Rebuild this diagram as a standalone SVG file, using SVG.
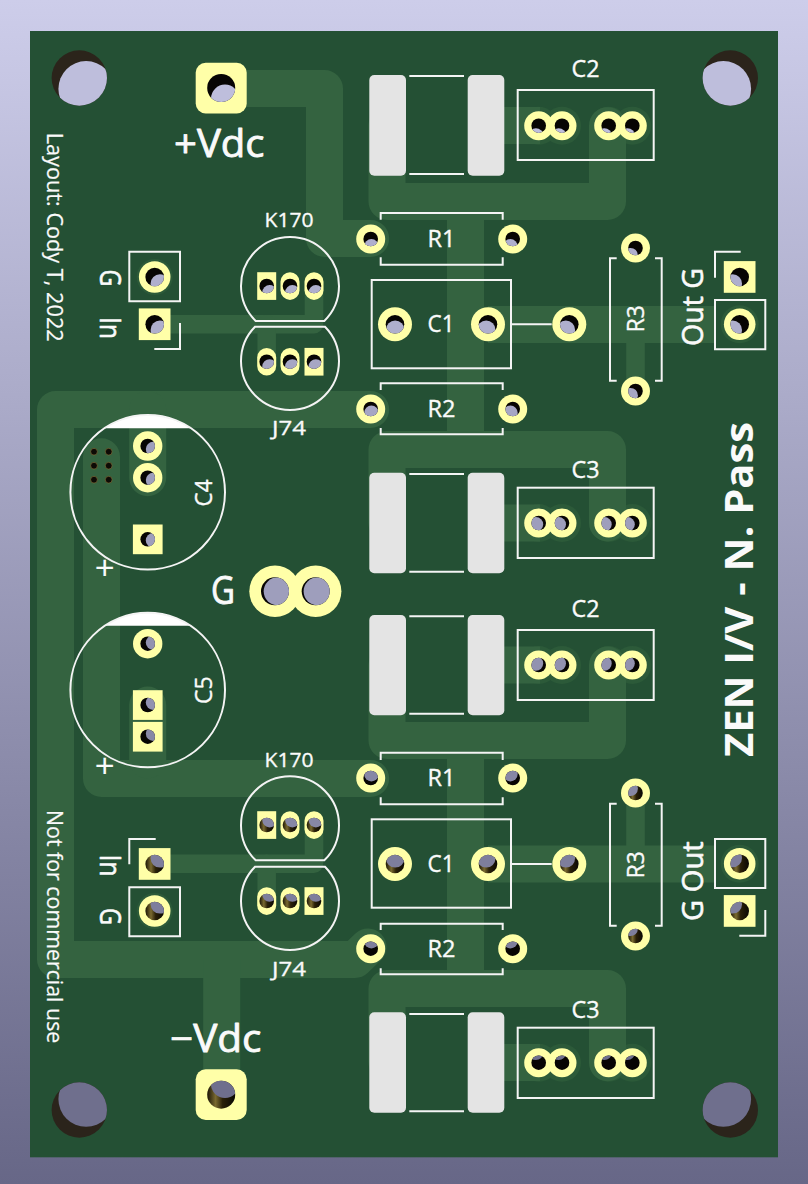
<svg xmlns="http://www.w3.org/2000/svg" width="808" height="1184" viewBox="0 0 808 1184">
<style>
.t{fill:none;stroke:#346340;stroke-width:37;stroke-linejoin:round;stroke-linecap:round}
.n{fill:none;stroke:#346340;stroke-width:18.5;stroke-linejoin:round;stroke-linecap:round}
.bt{fill:none;stroke:#346340;stroke-width:37}
.halo{fill:#2c5a39}
.s{fill:none;stroke:#f4f4f4;stroke-width:2}
.p{fill:#ffffa8}
.chip{fill:#e4e4e4}
.cap{fill:#fff}
text{fill:#fafafa;stroke:#fafafa;stroke-linejoin:round;stroke-width:.35;font-family:"Open Sans","DejaVu Sans",sans-serif}
.f22{font-size:23px}
.f20{font-size:20.5px}
.f19{font-size:21px;stroke-width:.2}
.f28{font-size:29px;stroke-width:.6}
.f37{font-size:38px;stroke-width:.8}
.d{fill:#070503}
.g{fill:url(#gold)}
.m{fill:#2b241b}
.b1{fill:#bebedc}.b2{fill:#afafcd}.b3{fill:#a6a6c4}.b4{fill:#9e9ebc}.b5{fill:#9292b0}.b6{fill:#8787a5}.b7{fill:#7e7e9c}.b8{fill:#6f6f8d}
</style>
<defs>
<linearGradient id="bg" x1="0" y1="0" x2="0" y2="1"><stop offset="0" stop-color="#cdcdea"/><stop offset="1" stop-color="#676787"/></linearGradient>
<linearGradient id="gold" x1="0" y1="0" x2="1" y2="0"><stop offset="0" stop-color="#1a1406"/><stop offset=".3" stop-color="#7a6a30"/><stop offset=".55" stop-color="#2a2008"/><stop offset="1" stop-color="#0a0804"/></linearGradient>
<clipPath id="c7"><circle r="7.3"/></clipPath>
<clipPath id="c9"><circle r="9.3"/></clipPath>
<clipPath id="c14"><circle r="14"/></clipPath>
<clipPath id="c28"><circle r="27.7"/></clipPath>
</defs>
<rect width="808" height="1184" fill="url(#bg)"/>
<rect x="30" y="31" width="748" height="1126.3" fill="#245034"/>

<g id="halos">
<circle class="halo" cx="538.7" cy="125.7" r="19"/><circle class="halo" cx="562" cy="125.7" r="19"/><circle class="halo" cx="608.7" cy="125.7" r="19"/><circle class="halo" cx="632.3" cy="125.7" r="19"/>
<circle class="halo" cx="538.7" cy="523" r="19"/><circle class="halo" cx="562" cy="523" r="19"/><circle class="halo" cx="608.7" cy="523" r="19"/><circle class="halo" cx="632.3" cy="523" r="19"/>
<circle class="halo" cx="538.7" cy="665" r="19"/><circle class="halo" cx="562" cy="665" r="19"/><circle class="halo" cx="608.7" cy="665" r="19"/><circle class="halo" cx="632.3" cy="665" r="19"/>
<circle class="halo" cx="538.7" cy="1062.7" r="19"/><circle class="halo" cx="562" cy="1062.7" r="19"/><circle class="halo" cx="608.7" cy="1062.7" r="19"/><circle class="halo" cx="632.3" cy="1062.7" r="19"/>
<circle class="halo" cx="739.7" cy="324.3" r="19"/><circle class="halo" cx="739.7" cy="863.7" r="19"/>
<circle class="halo" cx="154.7" cy="277" r="18"/><circle class="halo" cx="154.7" cy="911" r="18"/>
</g>

<g id="connectors">
<path class="t" d="M221.2 88.5H324.5V238.5H370.7"/>
<path class="t" d="M387 125V201.5H607.5V125.7"/>
<path class="t" d="M387 523V449.5H607.5V523"/>
<path class="t" d="M387 665V740.5H607.5V665"/>
<path class="t" d="M387 1062V988.5H607.5V1062.7"/>
<path class="bt" d="M465.5 201V450M465.5 740V989"/>
<path class="bt" d="M486 125.5H540M486 523H540M486 665H540M486 1062.5H540"/>
<path class="t" d="M370.7 409.5H55.5V959.5H355L368 947"/>
<path class="t" d="M101.5 456.8V778.5H370.7"/>
<path class="t" d="M147.7 409.5V477.7"/>
<path class="t" d="M147.7 705V760"/>
<path class="bt" d="M221.7 960V1095"/>
<path class="n" d="M154.7 324.3H314V286"/>
<path class="n" d="M266.7 324.3V361.7"/>
<path class="n" d="M154.7 863.7H314V825"/>
<path class="n" d="M266.7 863.7V901"/>
<path class="bt" d="M488 324.5H715M488 864H715"/>
<path class="n" d="M635.5 324.3V391"/>
<path class="n" d="M635.5 793V864"/>
</g>

<g id="C4"><path class="cap" d="M104.4 428.3A77.3 77.3 0 0 1 191 428.3Z"/><circle class="s" cx="147.7" cy="492.3" r="77.3"/>
<rect class="p" x="132.9" y="524.5" width="29.7" height="29.7"/><circle class="p" cx="147.7" cy="446" r="14.7"/><circle class="p" cx="147.7" cy="477.7" r="14.7"/>
<g transform="translate(147.7 446)"><circle class="d" r="7.3"/><circle class="b4" cx="5.4" cy="3.1" r="7.3" clip-path="url(#c7)"/></g>
<g transform="translate(147.7 477.7)"><circle class="d" r="7.3"/><circle class="b4" cx="5.4" cy="2.4" r="7.3" clip-path="url(#c7)"/></g>
<g transform="translate(147.7 539.3)"><circle class="d" r="7.3"/><circle class="b4" cx="5.4" cy="1.1" r="7.3" clip-path="url(#c7)"/></g>
<text class="f22" transform="translate(211.7 506.5) rotate(-90)" textLength="27" lengthAdjust="spacingAndGlyphs">C4</text>
<text x="104.7" y="579.3" text-anchor="middle" style="font-family:'Liberation Sans',sans-serif;font-size:34px;stroke-width:0">+</text>
</g>
<g id="C5"><path class="cap" d="M104.8 625.7A77.3 77.3 0 0 1 190.6 625.7Z"/><circle class="s" cx="147.7" cy="690" r="77.3"/>
<circle class="p" cx="147.7" cy="643.7" r="14.7"/><rect class="p" x="132.9" y="690.2" width="29.7" height="29.7"/><rect class="p" x="132.9" y="721.9" width="29.7" height="29.7"/>
<g transform="translate(147.7 643.7)"><circle class="d" r="7.3"/><circle class="b5" cx="5.4" cy="-1.1" r="7.3" clip-path="url(#c7)"/></g>
<g transform="translate(147.7 705)"><circle class="d" r="7.3"/><circle class="b5" cx="5.4" cy="-2.4" r="7.3" clip-path="url(#c7)"/></g>
<g transform="translate(147.7 736.7)"><circle class="d" r="7.3"/><circle class="b6" cx="5.4" cy="-3" r="7.3" clip-path="url(#c7)"/></g>
<text class="f22" transform="translate(211.7 704) rotate(-90)" textLength="27.7" lengthAdjust="spacingAndGlyphs">C5</text>
<text x="104.7" y="777.3" text-anchor="middle" style="font-family:'Liberation Sans',sans-serif;font-size:34px;stroke-width:0">+</text>
</g>
<g id="vias" fill="#0d0a05" stroke="#7d6d38" stroke-width=".7">
<circle cx="94" cy="451.7" r="3.4"/><circle cx="108.7" cy="451.7" r="3.4"/><circle cx="94" cy="465.7" r="3.4"/><circle cx="108.7" cy="465.7" r="3.4"/><circle cx="94" cy="479.7" r="3.4"/><circle cx="108.7" cy="479.7" r="3.4"/>
</g>

<g id="mount-holes">
<g transform="translate(79.3 78)"><circle class="m" r="27.7"/><circle class="b1" cx="6.8" cy="10.8" r="27.7" clip-path="url(#c28)"/></g>
<g transform="translate(730.3 78)"><circle class="m" r="27.7"/><circle class="b1" cx="-6.9" cy="10.8" r="27.7" clip-path="url(#c28)"/></g>
<g transform="translate(79.3 1110)"><circle class="m" r="27.7"/><circle class="b8" cx="6.8" cy="-10.9" r="27.7" clip-path="url(#c28)"/></g>
<g transform="translate(730.3 1110)"><circle class="m" r="27.7"/><circle class="b8" cx="-6.9" cy="-10.9" r="27.7" clip-path="url(#c28)"/></g>
</g>

<g id="Vplus"><rect class="p" x="195.7" y="62.7" width="51" height="50.7" rx="10"/>
<g transform="translate(221.2 88)"><circle class="d" r="14"/><circle class="b1" cx="3.8" cy="10.6" r="14" clip-path="url(#c14)"/></g>
<text class="f37" x="174" y="156.7" textLength="90.5" lengthAdjust="spacingAndGlyphs">+Vdc</text></g>
<g id="Vminus"><rect class="p" x="195.7" y="1069.3" width="51" height="50.7" rx="10"/>
<g transform="translate(221.2 1094.7)"><circle class="g" r="14"/><circle class="b8" cx="3.8" cy="-10.6" r="14" clip-path="url(#c14)"/></g>
<text class="f37" x="170" y="1051.7" textLength="91.5" lengthAdjust="spacingAndGlyphs">−Vdc</text></g>

<g id="GND"><circle class="p" cx="275" cy="591.3" r="25.7"/><circle class="p" cx="315.7" cy="591.3" r="25.7"/>
<g transform="translate(275 591.3)"><circle class="d" r="14"/><circle class="b4" cx="2.7" r="14" clip-path="url(#c14)"/></g>
<g transform="translate(315.7 591.3)"><circle class="d" r="14"/><circle class="b4" cx="1.9" r="14" clip-path="url(#c14)"/></g>
<text class="f37" x="211" y="604" textLength="24" lengthAdjust="spacingAndGlyphs">G</text></g>

<g id="notes">
<text class="f19" transform="translate(46.7 132.7) rotate(90)" textLength="209" lengthAdjust="spacingAndGlyphs">Layout: Cody T, 2022</text>
<text class="f19" transform="translate(46.7 810) rotate(90)" textLength="233.3" lengthAdjust="spacingAndGlyphs">Not for commercial use</text>
<text transform="translate(753.3 757) rotate(-90)" textLength="335" lengthAdjust="spacingAndGlyphs" style="font-size:39px;font-weight:700;stroke-width:0">ZEN I/V - N. Pass</text>
</g>

<g id="J1-top"><path class="s" d="M129.3 251.7H180V301.3H129.3Z"/><path class="s" d="M154.3 349H180V323"/>
<circle class="p" cx="154.7" cy="277" r="15.8"/><rect class="p" x="138.8" y="308.4" width="31.7" height="31.7"/>
<g transform="translate(154.7 277)"><circle class="d" r="9.3"/><circle class="b2" cx="5.2" cy="6.6" r="9.3" clip-path="url(#c9)"/></g>
<g transform="translate(154.7 324.3)"><circle class="d" r="9.3"/><circle class="b2" cx="5.2" cy="5.6" r="9.3" clip-path="url(#c9)"/></g>
<text class="f28" transform="translate(100 269.5) rotate(90)" textLength="17" lengthAdjust="spacingAndGlyphs">G</text>
<text class="f28" transform="translate(100 317) rotate(90)" textLength="22" lengthAdjust="spacingAndGlyphs">In</text></g>
<g id="J1-bot"><path class="s" d="M129.3 887.3H180V936.3H129.3Z"/><path class="s" d="M155.7 839H129.3V864.3"/>
<rect class="p" x="138.8" y="848.1" width="31.7" height="31.7"/><circle class="p" cx="154.7" cy="911" r="15.8"/>
<g transform="translate(154.7 864)"><circle class="g" r="9.3"/><circle class="b7" cx="5.2" cy="-5.7" r="9.3" clip-path="url(#c9)"/></g>
<g transform="translate(154.7 911)"><circle class="g" r="9.3"/><circle class="b7" cx="5.2" cy="-6.7" r="9.3" clip-path="url(#c9)"/></g>
<text class="f28" transform="translate(100 854.5) rotate(90)" textLength="22" lengthAdjust="spacingAndGlyphs">In</text>
<text class="f28" transform="translate(100 908) rotate(90)" textLength="17" lengthAdjust="spacingAndGlyphs">G</text></g>

<g id="K170-top"><path class="s" d="M255.7 321A49 49 0 1 1 324.3 321Z"/>
<rect class="p" x="257.2" y="272.2" width="19" height="27.7"/><rect class="p" x="280.5" y="272.2" width="19" height="27.7" rx="9.5"/><rect class="p" x="304.5" y="272.2" width="19" height="27.7" rx="9.5"/>
<g transform="translate(266.7 286)"><circle class="d" r="7.3"/><circle class="b2" cx="2.9" cy="6.4" r="7.3" clip-path="url(#c7)"/></g>
<g transform="translate(290 286)"><circle class="d" r="7.3"/><circle class="b2" cx="2.4" cy="6.4" r="7.3" clip-path="url(#c7)"/></g>
<g transform="translate(314 286)"><circle class="d" r="7.3"/><circle class="b2" cx="1.9" cy="6.4" r="7.3" clip-path="url(#c7)"/></g>
<text class="f20" x="264.5" y="227.3" textLength="49" lengthAdjust="spacingAndGlyphs">K170</text></g>
<g id="J74-top"><path class="s" d="M255 326.7A49 49 0 1 0 325 326.7Z"/>
<rect class="p" x="257.2" y="347.9" width="19" height="27.7" rx="9.5"/><rect class="p" x="280.5" y="347.9" width="19" height="27.7" rx="9.5"/><rect class="p" x="304.5" y="347.9" width="19" height="27.7"/>
<g transform="translate(266.7 361.7)"><circle class="d" r="7.3"/><circle class="b3" cx="2.9" cy="4.8" r="7.3" clip-path="url(#c7)"/></g>
<g transform="translate(290 361.7)"><circle class="d" r="7.3"/><circle class="b3" cx="2.4" cy="4.8" r="7.3" clip-path="url(#c7)"/></g>
<g transform="translate(314 361.7)"><circle class="d" r="7.3"/><circle class="b3" cx="1.9" cy="4.8" r="7.3" clip-path="url(#c7)"/></g>
<text class="f20" x="272" y="435" textLength="34" lengthAdjust="spacingAndGlyphs">J74</text></g>
<g id="K170-bot"><path class="s" d="M255.7 860.3A49 49 0 1 1 324.3 860.3Z"/>
<rect class="p" x="257.2" y="811.2" width="19" height="27.7"/><rect class="p" x="280.5" y="811.2" width="19" height="27.7" rx="9.5"/><rect class="p" x="304.5" y="811.2" width="19" height="27.7" rx="9.5"/>
<g transform="translate(266.7 825)"><circle class="g" r="7.3"/><circle class="b6" cx="2.9" cy="-4.9" r="7.3" clip-path="url(#c7)"/></g>
<g transform="translate(290 825)"><circle class="g" r="7.3"/><circle class="b6" cx="2.4" cy="-4.9" r="7.3" clip-path="url(#c7)"/></g>
<g transform="translate(314 825)"><circle class="g" r="7.3"/><circle class="b6" cx="1.9" cy="-4.9" r="7.3" clip-path="url(#c7)"/></g>
<text class="f20" x="264.5" y="767.3" textLength="49" lengthAdjust="spacingAndGlyphs">K170</text></g>
<g id="J74-bot"><path class="s" d="M255 866.7A49 49 0 1 0 325 866.7Z"/>
<rect class="p" x="257.2" y="887.2" width="19" height="27.7" rx="9.5"/><rect class="p" x="280.5" y="887.2" width="19" height="27.7" rx="9.5"/><rect class="p" x="304.5" y="887.2" width="19" height="27.7"/>
<g transform="translate(266.7 901)"><circle class="g" r="7.3"/><circle class="b7" cx="2.9" cy="-6.5" r="7.3" clip-path="url(#c7)"/></g>
<g transform="translate(290 901)"><circle class="g" r="7.3"/><circle class="b7" cx="2.4" cy="-6.5" r="7.3" clip-path="url(#c7)"/></g>
<g transform="translate(314 901)"><circle class="g" r="7.3"/><circle class="b7" cx="1.9" cy="-6.5" r="7.3" clip-path="url(#c7)"/></g>
<text class="f20" x="272" y="975.7" textLength="34" lengthAdjust="spacingAndGlyphs">J74</text></g>

<g id="chip-1"><rect class="chip" x="369.3" y="75" width="36.7" height="100.7" rx="5"/><rect class="chip" x="467.7" y="75" width="36.6" height="100.7" rx="5"/><path class="s" d="M409.3 76H464M409.3 174H464"/></g>
<g id="chip-2"><rect class="chip" x="369.3" y="472.7" width="36.7" height="100.6" rx="5"/><rect class="chip" x="467.7" y="472.7" width="36.6" height="100.6" rx="5"/><path class="s" d="M409.3 474H464M409.3 571.7H464"/></g>
<g id="chip-3"><rect class="chip" x="369.3" y="615" width="36.7" height="100.3" rx="5"/><rect class="chip" x="467.7" y="615" width="36.6" height="100.3" rx="5"/><path class="s" d="M409.3 616.3H464M409.3 713.7H464"/></g>
<g id="chip-4"><rect class="chip" x="369.3" y="1012.3" width="36.7" height="100.4" rx="5"/><rect class="chip" x="467.7" y="1012.3" width="36.6" height="100.4" rx="5"/><path class="s" d="M409.3 1014H464M409.3 1111.3H464"/></g>

<g id="C2-top"><rect class="s" x="517.7" y="90" width="136" height="70"/>
<circle class="p" cx="538.7" cy="125.7" r="14.5"/><circle class="p" cx="562" cy="125.7" r="14.5"/><circle class="p" cx="608.7" cy="125.7" r="14.5"/><circle class="p" cx="632.3" cy="125.7" r="14.5"/>
<g transform="translate(538.7 125.7)"><circle class="d" r="7.3"/><circle class="b1" cx="-2.8" cy="9.8" r="7.3" clip-path="url(#c7)"/></g>
<g transform="translate(562 125.7)"><circle class="d" r="7.3"/><circle class="b1" cx="-3.3" cy="9.8" r="7.3" clip-path="url(#c7)"/></g>
<g transform="translate(608.7 125.7)"><circle class="d" r="7.3"/><circle class="b1" cx="-4.3" cy="9.8" r="7.3" clip-path="url(#c7)"/></g>
<g transform="translate(632.3 125.7)"><circle class="d" r="7.3"/><circle class="b1" cx="-4.8" cy="9.8" r="7.3" clip-path="url(#c7)"/></g>
<text class="f22" x="571.5" y="77" textLength="28" lengthAdjust="spacingAndGlyphs">C2</text></g>
<g id="C3-top"><rect class="s" x="517.7" y="487.7" width="136" height="70.3"/>
<circle class="p" cx="538.7" cy="523" r="14.5"/><circle class="p" cx="562" cy="523" r="14.5"/><circle class="p" cx="608.7" cy="523" r="14.5"/><circle class="p" cx="632.3" cy="523" r="14.5"/>
<g transform="translate(538.7 523)"><circle class="d" r="7.3"/><circle class="b4" cx="-2.8" cy="1.4" r="7.3" clip-path="url(#c7)"/></g>
<g transform="translate(562 523)"><circle class="d" r="7.3"/><circle class="b4" cx="-3.3" cy="1.4" r="7.3" clip-path="url(#c7)"/></g>
<g transform="translate(608.7 523)"><circle class="d" r="7.3"/><circle class="b4" cx="-4.3" cy="1.4" r="7.3" clip-path="url(#c7)"/></g>
<g transform="translate(632.3 523)"><circle class="d" r="7.3"/><circle class="b4" cx="-4.8" cy="1.4" r="7.3" clip-path="url(#c7)"/></g>
<text class="f22" x="571.5" y="477.7" textLength="28" lengthAdjust="spacingAndGlyphs">C3</text></g>
<g id="C2-bot"><rect class="s" x="517.7" y="630" width="136" height="70"/>
<circle class="p" cx="538.7" cy="665" r="14.5"/><circle class="p" cx="562" cy="665" r="14.5"/><circle class="p" cx="608.7" cy="665" r="14.5"/><circle class="p" cx="632.3" cy="665" r="14.5"/>
<g transform="translate(538.7 665)"><circle class="d" r="7.3"/><circle class="b5" cx="-2.8" cy="-1.5" r="7.3" clip-path="url(#c7)"/></g>
<g transform="translate(562 665)"><circle class="d" r="7.3"/><circle class="b5" cx="-3.3" cy="-1.5" r="7.3" clip-path="url(#c7)"/></g>
<g transform="translate(608.7 665)"><circle class="d" r="7.3"/><circle class="b5" cx="-4.3" cy="-1.5" r="7.3" clip-path="url(#c7)"/></g>
<g transform="translate(632.3 665)"><circle class="d" r="7.3"/><circle class="b5" cx="-4.8" cy="-1.5" r="7.3" clip-path="url(#c7)"/></g>
<text class="f22" x="571.5" y="616.7" textLength="28" lengthAdjust="spacingAndGlyphs">C2</text></g>
<g id="C3-bot"><rect class="s" x="517.7" y="1027.7" width="136" height="70.3"/>
<circle class="p" cx="538.7" cy="1062.7" r="14.5"/><circle class="p" cx="562" cy="1062.7" r="14.5"/><circle class="p" cx="608.7" cy="1062.7" r="14.5"/><circle class="p" cx="632.3" cy="1062.7" r="14.5"/>
<g transform="translate(538.7 1062.7)"><circle class="d" r="7.3"/><circle class="b8" cx="-2.8" cy="-9.9" r="7.3" clip-path="url(#c7)"/></g>
<g transform="translate(562 1062.7)"><circle class="d" r="7.3"/><circle class="b8" cx="-3.3" cy="-9.9" r="7.3" clip-path="url(#c7)"/></g>
<g transform="translate(608.7 1062.7)"><circle class="d" r="7.3"/><circle class="b8" cx="-4.3" cy="-9.9" r="7.3" clip-path="url(#c7)"/></g>
<g transform="translate(632.3 1062.7)"><circle class="d" r="7.3"/><circle class="b8" cx="-4.8" cy="-9.9" r="7.3" clip-path="url(#c7)"/></g>
<text class="f22" x="571.5" y="1017.7" textLength="28" lengthAdjust="spacingAndGlyphs">C3</text></g>

<g id="R1-top"><path class="s" d="M380.7 219.7V213H502.7V219.7M380.7 257.3V264.7H502.7V257.3"/>
<circle class="p" cx="370.7" cy="239" r="14.5"/><circle class="p" cx="512.7" cy="239" r="14.5"/>
<g transform="translate(370.7 239)"><circle class="d" r="7.3"/><circle class="b2" cx=".7" cy="7.4" r="7.3" clip-path="url(#c7)"/></g>
<g transform="translate(512.7 239)"><circle class="d" r="7.3"/><circle class="b2" cx="-2.3" cy="7.4" r="7.3" clip-path="url(#c7)"/></g>
<text class="f22" x="427.5" y="246.7" textLength="28" lengthAdjust="spacingAndGlyphs">R1</text></g>
<g id="R2-top"><path class="s" d="M380.7 390V383.3H502.7V390M380.7 428V434.3H502.7V428"/>
<circle class="p" cx="370.7" cy="409" r="14.5"/><circle class="p" cx="512.7" cy="409" r="14.5"/>
<g transform="translate(370.7 409)"><circle class="d" r="7.3"/><circle class="b3" cx=".7" cy="3.8" r="7.3" clip-path="url(#c7)"/></g>
<g transform="translate(512.7 409)"><circle class="d" r="7.3"/><circle class="b3" cx="-2.3" cy="3.8" r="7.3" clip-path="url(#c7)"/></g>
<text class="f22" x="427.5" y="416.7" textLength="28" lengthAdjust="spacingAndGlyphs">R2</text></g>
<g id="R1-bot"><path class="s" d="M380.7 760V752.7H502.7V760M380.7 797.3V804.3H502.7V797.3"/>
<circle class="p" cx="370.7" cy="778" r="14.5"/><circle class="p" cx="512.7" cy="778" r="14.5"/>
<g transform="translate(370.7 778)"><circle class="d" r="7.3"/><circle class="b6" cx=".7" cy="-3.9" r="7.3" clip-path="url(#c7)"/></g>
<g transform="translate(512.7 778)"><circle class="d" r="7.3"/><circle class="b6" cx="-2.3" cy="-3.9" r="7.3" clip-path="url(#c7)"/></g>
<text class="f22" x="427.5" y="786" textLength="28" lengthAdjust="spacingAndGlyphs">R1</text></g>
<g id="R2-bot"><path class="s" d="M380.7 930V923.7H502.7V930M380.7 968.3V974.3H502.7V968.3"/>
<circle class="p" cx="370.7" cy="948.7" r="14.5"/><circle class="p" cx="512.7" cy="948.7" r="14.5"/>
<g transform="translate(370.7 948.7)"><circle class="d" r="7.3"/><circle class="b7" cx=".7" cy="-7.5" r="7.3" clip-path="url(#c7)"/></g>
<g transform="translate(512.7 948.7)"><circle class="d" r="7.3"/><circle class="b7" cx="-2.3" cy="-7.5" r="7.3" clip-path="url(#c7)"/></g>
<text class="f22" x="427.5" y="956.7" textLength="28" lengthAdjust="spacingAndGlyphs">R2</text></g>

<g id="C1-top"><rect class="s" x="371.7" y="280" width="139.3" height="88.3"/><path class="s" d="M511 324.3H551.7"/>
<circle class="p" cx="395" cy="324.3" r="17"/><circle class="p" cx="488" cy="324.3" r="17"/><circle class="p" cx="569.3" cy="324.3" r="17"/>
<g transform="translate(395 324.3)"><circle class="d" r="9.3"/><circle class="b2" cx=".2" cy="5.6" r="9.3" clip-path="url(#c9)"/></g>
<g transform="translate(488 324.3)"><circle class="d" r="9.3"/><circle class="b2" cx="-1.8" cy="5.6" r="9.3" clip-path="url(#c9)"/></g>
<g transform="translate(569.3 324.3)"><circle class="d" r="9.3"/><circle class="b2" cx="-3.5" cy="5.6" r="9.3" clip-path="url(#c9)"/></g>
<text class="f22" x="427.5" y="331.7" textLength="27" lengthAdjust="spacingAndGlyphs">C1</text></g>
<g id="C1-bot"><rect class="s" x="371.7" y="819.3" width="139.3" height="88.4"/><path class="s" d="M511 864H551.7"/>
<circle class="p" cx="395" cy="864" r="17"/><circle class="p" cx="488" cy="864" r="17"/><circle class="p" cx="569.3" cy="864" r="17"/>
<g transform="translate(395 864)"><circle class="g" r="9.3"/><circle class="b7" cx=".2" cy="-5.7" r="9.3" clip-path="url(#c9)"/></g>
<g transform="translate(488 864)"><circle class="g" r="9.3"/><circle class="b7" cx="-1.8" cy="-5.7" r="9.3" clip-path="url(#c9)"/></g>
<g transform="translate(569.3 864)"><circle class="g" r="9.3"/><circle class="b7" cx="-3.5" cy="-5.7" r="9.3" clip-path="url(#c9)"/></g>
<text class="f22" x="427.5" y="871.7" textLength="27" lengthAdjust="spacingAndGlyphs">C1</text></g>

<g id="R3-top"><path class="s" d="M616.7 258.3H610V380.7H616.7M655 258.3H661.7V380.7H655"/>
<circle class="p" cx="635.5" cy="248" r="14.5"/><circle class="p" cx="635.5" cy="391" r="14.5"/>
<g transform="translate(635.5 248)"><circle class="d" r="7.3"/><circle class="b2" cx="-4.9" cy="7.2" r="7.3" clip-path="url(#c7)"/></g>
<g transform="translate(635.5 391)"><circle class="d" r="7.3"/><circle class="b3" cx="-4.9" cy="4.2" r="7.3" clip-path="url(#c7)"/></g>
<text class="f22" transform="translate(644 332.2) rotate(-90)" textLength="27" lengthAdjust="spacingAndGlyphs">R3</text></g>
<g id="R3-bot"><path class="s" d="M616.7 803.7H610V925.7H616.7M655 803.7H661.7V925.7H655"/>
<circle class="p" cx="635.5" cy="793" r="14.5"/><circle class="p" cx="635.5" cy="936" r="14.5"/>
<g transform="translate(635.5 793)"><circle class="g" r="7.3"/><circle class="b6" cx="-4.9" cy="-4.2" r="7.3" clip-path="url(#c7)"/></g>
<g transform="translate(635.5 936)"><circle class="g" r="7.3"/><circle class="b7" cx="-4.9" cy="-7.2" r="7.3" clip-path="url(#c7)"/></g>
<text class="f22" transform="translate(644 878.2) rotate(-90)" textLength="27" lengthAdjust="spacingAndGlyphs">R3</text></g>

<g id="J2-top"><path class="s" d="M715 300H765.3V349.3H715Z"/><path class="s" d="M740.7 251.7H715V277.7"/>
<rect class="p" x="723.8" y="261.1" width="31.7" height="31.7"/><circle class="p" cx="739.7" cy="324.3" r="15.8"/>
<g transform="translate(739.7 277)"><circle class="d" r="9.3"/><circle class="b2" cx="-7" cy="6.6" r="9.3" clip-path="url(#c9)"/></g>
<g transform="translate(739.7 324.3)"><circle class="d" r="9.3"/><circle class="b2" cx="-7" cy="5.6" r="9.3" clip-path="url(#c9)"/></g>
<text class="f28" transform="translate(702.7 346) rotate(-90)" textLength="78" lengthAdjust="spacingAndGlyphs">Out G</text></g>
<g id="J2-bot"><path class="s" d="M715 839H765.3V888H715Z"/><path class="s" d="M739.3 935.7H765.3V910"/>
<circle class="p" cx="739.7" cy="863.7" r="15.8"/><rect class="p" x="723.8" y="895.1" width="31.7" height="31.7"/>
<g transform="translate(739.7 863.7)"><circle class="g" r="9.3"/><circle class="b7" cx="-7" cy="-5.7" r="9.3" clip-path="url(#c9)"/></g>
<g transform="translate(739.7 911)"><circle class="g" r="9.3"/><circle class="b7" cx="-7" cy="-6.7" r="9.3" clip-path="url(#c9)"/></g>
<text class="f28" transform="translate(702.7 921) rotate(-90)" textLength="79.7" lengthAdjust="spacingAndGlyphs">G Out</text></g>
</svg>
